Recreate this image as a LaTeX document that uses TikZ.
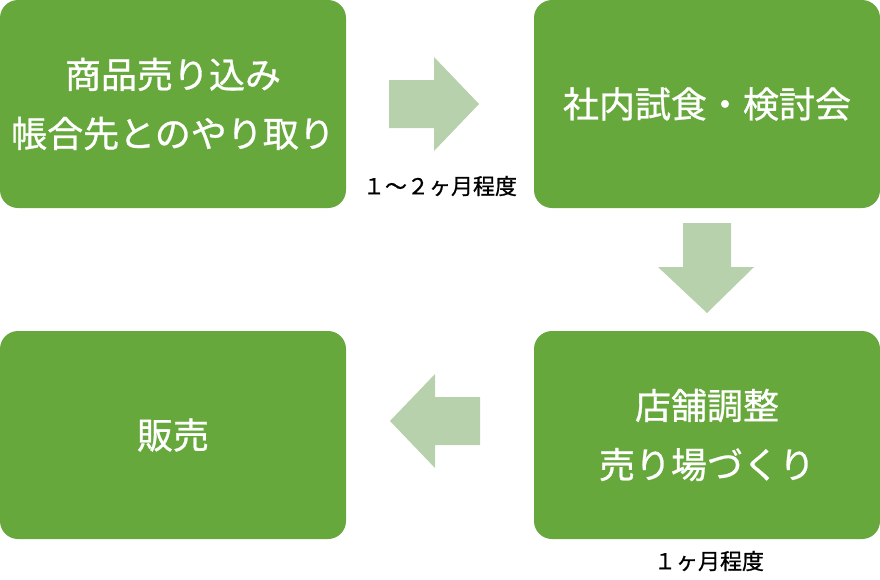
\documentclass[tikz,border=0pt]{standalone}
\usepackage{fontspec}
\setmainfont{Noto Sans CJK JP}
\definecolor{boxgreen}{RGB}{103,168,60}
\definecolor{arrowgreen}{RGB}{183,209,173}
\tikzset{
  stepbox/.style={rectangle, fill=boxgreen, rounded corners=18pt, minimum width=346pt, minimum height=208pt, inner sep=0pt, text=white, align=center, font=\fontsize{36}{59}\selectfont\addfontfeature{FakeBold=0.8}},
  arrowshape/.style={fill=arrowgreen, draw=none},
  durlabel/.style={font=\fontsize{22}{24}\selectfont\addfontfeature{FakeBold=0.8}, text=black, inner sep=0pt}
}
\begin{document}
\begin{tikzpicture}[x=1pt,y=-1pt]
\useasboundingbox (0,0) rectangle (880,579);
\node[stepbox] (a) at (173,104) {商品売り込み\\帳合先とのやり取り};
\node[stepbox] (b) at (707,104) {社内試食・検討会};
\node[stepbox] (c) at (707,435) {店舗調整\\売り場づくり};
\node[stepbox] (d) at (173,435) {販売};
\fill[arrowshape] (389,80) -- (434,80) -- (434,57) -- (479,104) -- (434,151) -- (434,128) -- (389,128) -- cycle;
\fill[arrowshape] (683,223) -- (731,223) -- (731,267) -- (754,267) -- (707,313) -- (658,267) -- (683,267) -- cycle;
\fill[arrowshape] (480,397) -- (435,397) -- (435,374) -- (390,421) -- (435,468) -- (435,445) -- (480,445) -- cycle;
\node[durlabel] (l1) at (440,186) {１～２ヶ月程度};
\node[durlabel] (l2) at (709,561) {１ヶ月程度};
\end{tikzpicture}
\end{document}
